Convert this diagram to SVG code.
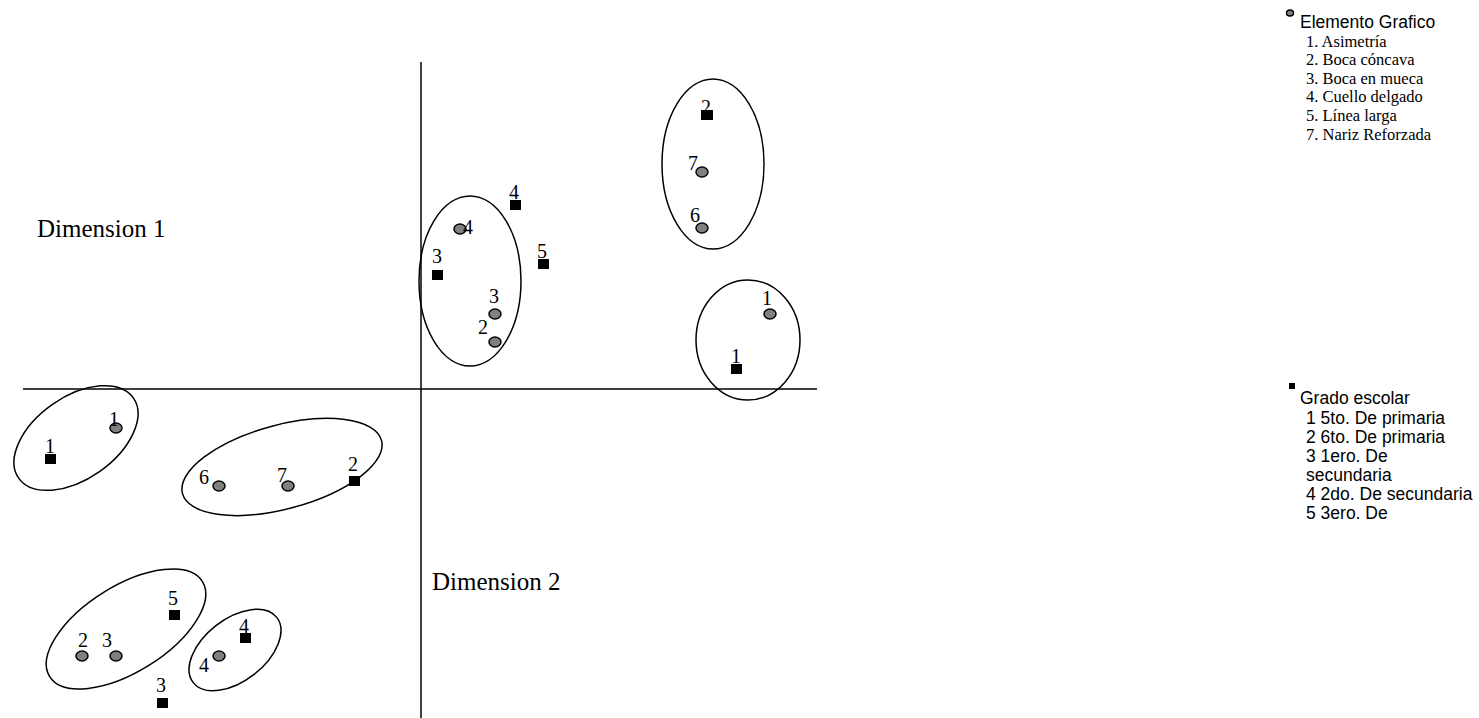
<svg xmlns="http://www.w3.org/2000/svg" width="1479" height="718" viewBox="0 0 1479 718">
<style>
.ax{stroke:#000;stroke-width:1.5;fill:none}
.cl{stroke:#000;stroke-width:1.5;fill:none}
.pt{fill:#808080;stroke:#000;stroke-width:1.5}
.sq{fill:#000}
.lb{font-family:"Liberation Serif",serif;font-size:20px;fill:#000}
.dim{font-family:"Liberation Serif",serif;font-size:25px;fill:#000}
.lh{font-family:"Liberation Sans",sans-serif;font-size:17.5px;fill:#000}
.ls{font-family:"Liberation Serif",serif;font-size:16.5px;fill:#000}
</style>
<rect width="1479" height="718" fill="#fff"/>
<g id="axes">
<line class="ax" x1="421" y1="62" x2="421" y2="718"/>
<line class="ax" x1="23" y1="389" x2="817" y2="389"/>
<text class="dim" x="37" y="237">Dimension 1</text>
<text class="dim" x="432" y="590">Dimension 2</text>
</g>
<g id="clusters">
<ellipse id="clusterA" class="cl" cx="470" cy="281" rx="51" ry="85"/>
<ellipse id="clusterB" class="cl" cx="713" cy="164" rx="51" ry="85"/>
<ellipse id="clusterC" class="cl" cx="748" cy="340" rx="52" ry="60"/>
<ellipse id="clusterD" class="cl" cx="76" cy="438" rx="70" ry="41" transform="rotate(-35 76 438)"/>
<ellipse id="clusterE" class="cl" cx="282" cy="467" rx="103" ry="42" transform="rotate(-15 282 467)"/>
<ellipse id="clusterF" class="cl" cx="126" cy="629" rx="90" ry="43" transform="rotate(-32 126 629)"/>
<ellipse id="clusterG" class="cl" cx="235" cy="650" rx="53" ry="31" transform="rotate(-38 235 650)"/>
</g>
<g id="points">
<g id="e4a"><ellipse class="pt" cx="460" cy="229" rx="6" ry="5"/><text class="lb" x="463" y="234">4</text></g>
<g id="g3a"><rect class="sq" x="432" y="270" width="11" height="10"/><text class="lb" x="432" y="263">3</text></g>
<g id="e3a"><ellipse class="pt" cx="495" cy="314" rx="6" ry="5"/><text class="lb" x="489" y="303">3</text></g>
<g id="e2a"><ellipse class="pt" cx="495" cy="342" rx="6" ry="5"/><text class="lb" x="478" y="334">2</text></g>
<g id="g4a"><rect class="sq" x="510" y="200" width="11" height="10"/><text class="lb" x="509" y="199">4</text></g>
<g id="g5a"><rect class="sq" x="538" y="259" width="11" height="10"/><text class="lb" x="537" y="258">5</text></g>

<g id="g2b"><rect class="sq" x="701" y="110" width="12" height="10"/><text class="lb" x="701" y="114">2</text></g>
<g id="e7b"><ellipse class="pt" cx="702" cy="172" rx="6" ry="5"/><text class="lb" x="688" y="170">7</text></g>
<g id="e6b"><ellipse class="pt" cx="702" cy="228" rx="6" ry="5"/><text class="lb" x="690" y="222">6</text></g>

<g id="e1c"><ellipse class="pt" cx="770" cy="314" rx="6" ry="5"/><text class="lb" x="762" y="305">1</text></g>
<g id="g1c"><rect class="sq" x="731" y="364" width="11" height="10"/><text class="lb" x="731" y="363">1</text></g>

<g id="e1d"><ellipse class="pt" cx="116" cy="428" rx="6" ry="5"/><text class="lb" x="109" y="426">1</text></g>
<g id="g1d"><rect class="sq" x="45" y="454" width="11" height="10"/><text class="lb" x="45" y="453">1</text></g>

<g id="e6e"><ellipse class="pt" cx="219" cy="486" rx="6" ry="5"/><text class="lb" x="199" y="484">6</text></g>
<g id="e7e"><ellipse class="pt" cx="288" cy="486" rx="6" ry="5"/><text class="lb" x="277" y="482">7</text></g>
<g id="g2e"><rect class="sq" x="349" y="476" width="11" height="10"/><text class="lb" x="348" y="471">2</text></g>

<g id="e2f"><ellipse class="pt" cx="82" cy="656" rx="6" ry="5"/><text class="lb" x="78" y="647">2</text></g>
<g id="e3f"><ellipse class="pt" cx="116" cy="656" rx="6" ry="5"/><text class="lb" x="102" y="647">3</text></g>
<g id="g5f"><rect class="sq" x="169" y="610" width="11" height="10"/><text class="lb" x="168" y="605">5</text></g>

<g id="e4g"><ellipse class="pt" cx="219" cy="656" rx="6" ry="5"/><text class="lb" x="199" y="672">4</text></g>
<g id="g4g"><rect class="sq" x="240" y="633" width="11" height="10"/><text class="lb" x="239" y="633">4</text></g>
<g id="g3g"><rect class="sq" x="157" y="698" width="11" height="10"/><text class="lb" x="156" y="692">3</text></g>
</g>
<g id="legend1">
<ellipse class="pt" cx="1290" cy="13" rx="3.5" ry="3" stroke-width="1"/>
<text class="lh" x="1300" y="28">Elemento Grafico</text>
<text class="ls" x="1306" y="47">1. Asimetría</text>
<text class="ls" x="1306" y="65">2. Boca cóncava</text>
<text class="ls" x="1306" y="84">3. Boca en mueca</text>
<text class="ls" x="1306" y="102">4. Cuello delgado</text>
<text class="ls" x="1306" y="121">5. Línea larga</text>
<text class="ls" x="1306" y="140">7. Nariz Reforzada</text>
</g>
<g id="legend2">
<rect class="sq" x="1289" y="383" width="6" height="6"/>
<text class="lh" x="1300" y="404">Grado escolar</text>
<text class="lh" x="1306" y="424">1 5to. De primaria</text>
<text class="lh" x="1306" y="443">2 6to. De primaria</text>
<text class="lh" x="1306" y="462">3 1ero. De</text>
<text class="lh" x="1306" y="481">secundaria</text>
<text class="lh" x="1306" y="500">4 2do. De secundaria</text>
<text class="lh" x="1306" y="519">5 3ero. De</text>
</g>
</svg>
